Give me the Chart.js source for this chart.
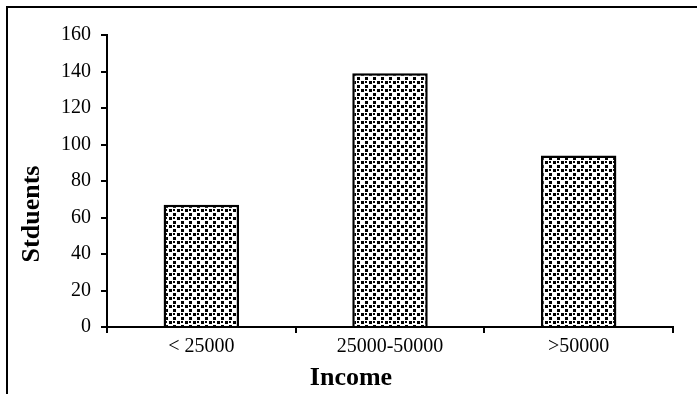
<!DOCTYPE html>
<html>
<head>
<meta charset="utf-8">
<script src="https://cdn.jsdelivr.net/npm/chart.js@4/dist/chart.umd.min.js"></script>
<style>
  html, body { margin: 0; padding: 0; background: #fff; }
  #wrap { position: relative; width: 697px; height: 394px; }
</style>
</head>
<body>
<div id="wrap"><canvas id="c" width="697" height="394"></canvas></div>
<script>
const categories = ['< 25000', '25000-50000', '>50000'];
const students = [67, 139, 94];
const yMin = 0, yMax = 160, yStep = 20;
const xTitle = 'Income';
const yTitle = 'Stduents';

function makePattern() {
  const p = document.createElement('canvas');
  p.width = 8; p.height = 8;
  const g = p.getContext('2d');
  g.fillStyle = '#fff'; g.fillRect(0, 0, 8, 8);
  g.fillStyle = '#000';
  g.fillRect(1, 1, 3, 3);
  g.fillRect(5, 5, 3, 3);
  g.fillRect(5, 1, 2, 2);
  return g.createPattern(p, 'repeat');
}

const frameAndTitles = {
  id: 'frameAndTitles',
  afterDraw(chart) {
    const ctx = chart.ctx;
    ctx.save();
    ctx.strokeStyle = '#000';
    ctx.lineWidth = 2;
    ctx.beginPath();
    ctx.moveTo(7, 394); ctx.lineTo(7, 7); ctx.lineTo(697, 7);
    ctx.stroke();
    ctx.fillStyle = '#000';
    ctx.font = 'bold 26px "Liberation Serif"';
    ctx.textAlign = 'center';
    ctx.textBaseline = 'middle';
    ctx.fillText(xTitle, 351, 378);
    ctx.translate(32, 214);
    ctx.rotate(-Math.PI / 2);
    ctx.fillText(yTitle, 0, 0);
    ctx.restore();
  }
};

const tickFont = { family: 'Liberation Serif', size: 20 };

new Chart(document.getElementById('c'), {
  type: 'bar',
  data: {
    labels: categories,
    datasets: [{
      data: students,
      backgroundColor: makePattern(),
      borderColor: '#000',
      borderWidth: 2.5,
      barPercentage: 0.4,
      categoryPercentage: 1.0
    }]
  },
  options: {
    responsive: false,
    animation: false,
    layout: { padding: { top: 35, right: 24, left: 0, bottom: 0 } },
    plugins: { legend: { display: false }, tooltip: { enabled: false } },
    scales: {
      x: {
        grid: { display: true, drawOnChartArea: false, drawTicks: true, tickLength: 6, color: '#000', lineWidth: 2, offset: true },
        border: { display: true, color: '#000', width: 2 },
        ticks: { color: '#000', font: tickFont, padding: 2, maxRotation: 0 },
        afterFit(scale) { scale.height = 67; }
      },
      y: {
        min: yMin, max: yMax,
        grid: { display: true, drawOnChartArea: false, drawTicks: true, tickLength: 6, color: '#000', lineWidth: 2 },
        border: { display: true, color: '#000', width: 2 },
        ticks: { stepSize: yStep, color: '#000', font: tickFont, padding: 10 },
        afterFit(scale) { scale.width = 107; }
      }
    }
  },
  plugins: [frameAndTitles]
});
</script>
</body>
</html>
